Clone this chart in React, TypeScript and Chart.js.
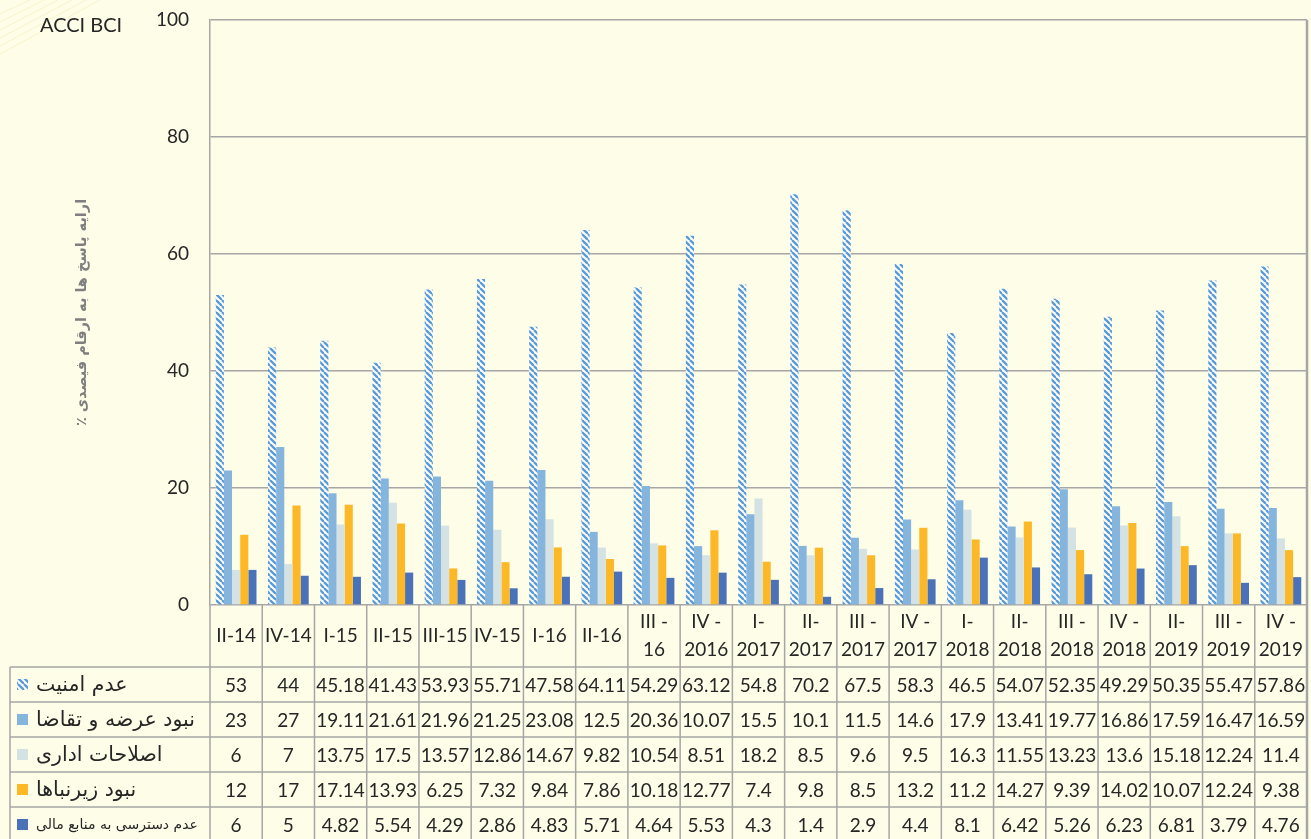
import { useEffect, useRef } from 'react';
import { Chart, registerables } from 'chart.js';

Chart.register(...registerables);

// ---------- data ----------
const categories: string[][] = [
  ['II-14'], ['IV-14'], ['I-15'], ['II-15'], ['III-15'], ['IV-15'], ['I-16'], ['II-16'],
  ['III -', '16'], ['IV -', '2016'], ['I-', '2017'], ['II-', '2017'], ['III -', '2017'], ['IV -', '2017'],
  ['I-', '2018'], ['II-', '2018'], ['III -', '2018'], ['IV -', '2018'],
  ['II-', '2019'], ['III -', '2019'], ['IV -', '2019'],
];

const seriesNames: string[] = [
  'عدم امنیت',
  'نبود عرضه و تقاضا',
  'اصلاحات اداری',
  'نبود زیرنباها',
  'عدم دسترسی به منابع مالی',
];

const insecurity: number[] = [53, 44, 45.18, 41.43, 53.93, 55.71, 47.58, 64.11, 54.29, 63.12, 54.8, 70.2, 67.5, 58.3, 46.5, 54.07, 52.35, 49.29, 50.35, 55.47, 57.86];
const supplyDemand: number[] = [23, 27, 19.11, 21.61, 21.96, 21.25, 23.08, 12.5, 20.36, 10.07, 15.5, 10.1, 11.5, 14.6, 17.9, 13.41, 19.77, 16.86, 17.59, 16.47, 16.59];
const adminReform: number[] = [6, 7, 13.75, 17.5, 13.57, 12.86, 14.67, 9.82, 10.54, 8.51, 18.2, 8.5, 9.6, 9.5, 16.3, 11.55, 13.23, 13.6, 15.18, 12.24, 11.4];
const infrastructure: number[] = [12, 17, 17.14, 13.93, 6.25, 7.32, 9.84, 7.86, 10.18, 12.77, 7.4, 9.8, 8.5, 13.2, 11.2, 14.27, 9.39, 14.02, 10.07, 12.24, 9.38];
const finance: number[] = [6, 5, 4.82, 5.54, 4.29, 2.86, 4.83, 5.71, 4.64, 5.53, 4.3, 1.4, 2.9, 4.4, 8.1, 6.42, 5.26, 6.23, 6.81, 3.79, 4.76];

const seriesValues: number[][] = [insecurity, supplyDemand, adminReform, infrastructure, finance];

const yTickMin = 0;
const yTickMax = 100;
const yTickStep = 20;

const chartLabel = 'ACCI BCI';
const yTitle = 'ارایه پاسخ ها به ارقام فیصدی ٪\u200F';

// ---------- styles ----------
const BG = '#fefde8';
const GRID = '#a6a6a6';
const TEXT = '#262626';
const LATIN = "Lato, 'DejaVu Sans', sans-serif";
const ARABIC = "'DejaVu Sans', sans-serif";
const solidColors = ['#5b9bd5', '#85b4dc', '#d4e2e4', '#fdb827', '#4a72b9'];

function makeHatch(): CanvasPattern | string {
  const s = 6;
  const c = document.createElement('canvas');
  c.width = s;
  c.height = s;
  const g = c.getContext('2d');
  if (!g) return solidColors[0];
  g.fillStyle = '#ffffff';
  g.fillRect(0, 0, s, s);
  g.strokeStyle = '#5b9bd5';
  g.lineWidth = 2.3;
  for (const off of [-s, 0, s]) {
    g.beginPath();
    g.moveTo(off, 0);
    g.lineTo(off + s, s);
    g.stroke();
  }
  const p = g.createPattern(c, 'repeat');
  return p || solidColors[0];
}

export default function App() {
  const ref = useRef<HTMLCanvasElement | null>(null);

  useEffect(() => {
    const canvas = ref.current;
    if (!canvas) return;
    const hatch = makeHatch();
    const fills: (CanvasPattern | string)[] = [hatch, solidColors[1], solidColors[2], solidColors[3], solidColors[4]];

    const bgPlugin = {
      id: 'bg',
      beforeDraw(chart: any) {
        const { ctx, width, height } = chart;
        ctx.save();
        ctx.fillStyle = BG;
        ctx.fillRect(0, 0, width, height);
        ctx.strokeStyle = 'rgba(240, 232, 170, 0.45)';
        ctx.lineWidth = 1;
        for (let k = 0; k < 6; k++) {
          ctx.beginPath();
          ctx.moveTo(0, 14 + k * 8);
          ctx.lineTo(30 + k * 14, 0);
          ctx.stroke();
        }
        ctx.fillStyle = TEXT;
        ctx.font = `20px ${LATIN}`;
        ctx.textAlign = 'left';
        ctx.textBaseline = 'middle';
        ctx.fillText(chartLabel, 40, 26);
        ctx.restore();
      },
    };

    const tablePlugin = {
      id: 'dataTable',
      afterDraw(chart: any) {
        const { ctx, chartArea } = chart;
        const xs = chart.scales.x;
        const n = categories.length;
        const colW = (chartArea.right - chartArea.left) / n;
        const top = chartArea.bottom;
        const catRowH = 62;
        const rowH = 35;
        const tableLeft = 10;
        const bottom = chart.height;
        const line = (x1: number, y1: number, x2: number, y2: number) => {
          ctx.beginPath();
          ctx.moveTo(x1, y1);
          ctx.lineTo(x2, y2);
          ctx.stroke();
        };
        ctx.save();
        ctx.strokeStyle = GRID;
        ctx.lineWidth = 1.5;
        for (let i = 0; i < n; i++) {
          const xx = chartArea.left + i * colW;
          line(xx, top, xx, bottom);
        }
        line(tableLeft, top + catRowH, tableLeft, bottom);
        for (let r = 0; r < seriesNames.length; r++) {
          const yy = top + catRowH + r * rowH;
          line(tableLeft, yy, chartArea.right, yy);
        }
        ctx.lineWidth = 2.5;
        line(chartArea.right, chartArea.top, chartArea.right, bottom);

        // category labels
        ctx.fillStyle = TEXT;
        ctx.textAlign = 'center';
        ctx.textBaseline = 'middle';
        ctx.font = `19px ${LATIN}`;
        const lineH = 28;
        categories.forEach((lines, i) => {
          const cx = xs.getPixelForValue(i);
          const cy = top + catRowH / 2;
          const y0 = cy - ((lines.length - 1) * lineH) / 2;
          lines.forEach((t, k) => ctx.fillText(t, cx, y0 + k * lineH));
        });

        // values
        seriesValues.forEach((vals, r) => {
          const cy = top + catRowH + r * rowH + rowH / 2 + 1;
          vals.forEach((v, i) => {
            ctx.fillText(String(v), xs.getPixelForValue(i), cy);
          });
        });

        // legend column
        seriesNames.forEach((name, r) => {
          const cy = top + catRowH + r * rowH + rowH / 2;
          ctx.fillStyle = fills[r] as any;
          ctx.fillRect(17, cy - 5.5, 11, 11);
          ctx.fillStyle = TEXT;
          ctx.textAlign = 'left';
          ctx.font = r === 4 ? `14px ${ARABIC}` : `20.5px ${ARABIC}`;
          ctx.fillText(name, 36, cy + 1);
        });
        ctx.restore();
      },
    };

    const chart = new Chart(canvas, {
      type: 'bar',
      data: {
        labels: categories.map((c) => c.join(' ')),
        datasets: seriesNames.map((name, i) => ({
          label: name,
          data: seriesValues[i],
          backgroundColor: fills[i] as any,
          borderWidth: 0,
          categoryPercentage: 0.78,
          barPercentage: 1,
        })),
      },
      options: {
        responsive: false,
        animation: false,
        layout: { padding: { left: 0, top: 20, right: 4, bottom: 234 } },
        plugins: {
          legend: { display: false },
          tooltip: { enabled: false },
          title: { display: false },
        },
        scales: {
          x: { type: 'category', display: false },
          y: {
            min: yTickMin,
            max: yTickMax,
            ticks: {
              stepSize: yTickStep,
              padding: 21,
              color: TEXT,
              font: { family: LATIN, size: 19 },
            },
            grid: { color: GRID, lineWidth: 1.5, drawTicks: false },
            border: { display: true, color: GRID, width: 1.5 },
            title: {
              display: true,
              text: yTitle,
              color: '#7f7f7f',
              font: { family: ARABIC, size: 14.5, weight: 'bold' },
              padding: { top: 74, bottom: 0 },
            },
            afterFit: (scale: any) => {
              scale.width = 210;
              scale.paddingTop = 0;
              scale.paddingBottom = 0;
            },
          },
        },
      },
      plugins: [bgPlugin, tablePlugin],
    } as any);

    return () => chart.destroy();
  }, []);

  return (
    <div style={{ position: 'absolute', left: 0, top: 0, width: 1311, height: 839, background: BG }}>
      <canvas ref={ref} width={1311} height={839} style={{ display: 'block' }} />
    </div>
  );
}
